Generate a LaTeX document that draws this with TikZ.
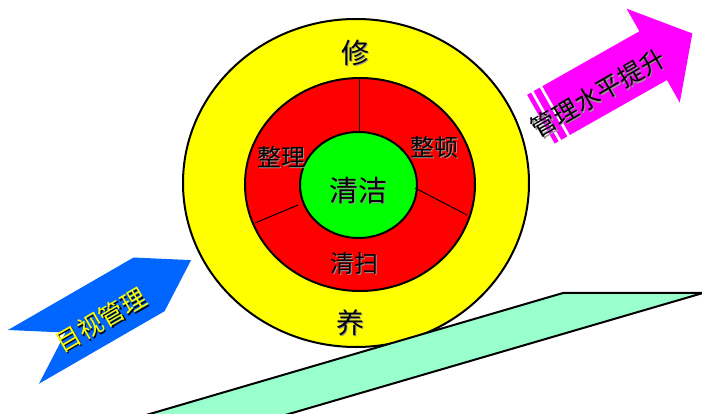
\documentclass[tikz,border=0pt]{standalone}
\usepackage{fontspec}
\newfontfamily\cjk{Noto Sans CJK SC}
\usetikzlibrary{shapes.geometric}
\definecolor{ylw}{RGB}{255,255,0}
\definecolor{rd}{RGB}{255,0,0}
\definecolor{grn}{RGB}{0,255,0}
\definecolor{mint}{RGB}{153,255,204}
\definecolor{blu}{RGB}{0,102,255}
\definecolor{mag}{RGB}{255,0,255}
\definecolor{shd}{RGB}{150,150,150}
\newcommand\shtxt[7]{%
  \node[txt, text=#5, font=\cjk\fontsize{#3}{#3}\selectfont, xshift=1.3pt, yshift=-1.3pt, rotate=#7] (#1s) at (#2) {#6};
  \node[txt, text=#4, font=\cjk\fontsize{#3}{#3}\selectfont, rotate=#7] (#1) at (#2) {#6};}
\begin{document}
\begin{tikzpicture}[x=1pt,y=-1pt,
  ring/.style={ellipse, draw=black, line width=2pt, inner sep=0pt},
  divider/.style={draw=black, line width=1pt},
  txt/.style={inner sep=0pt, anchor=center}]
\useasboundingbox (0,0) rectangle (702,414);

% blue chevron arrow
\begin{scope}[shift={(8,330)}, rotate=30]
  \fill[blu] (0,0) -- (145,0) -- (193.5,31) -- (145,62) -- (0,62) -- (48.5,31) -- cycle;
\end{scope}

% magenta striped arrow
\begin{scope}[shift={(548,83)}, rotate=29.5]
  \fill[mag] (-24,0) rectangle (-19.5,56);
  \fill[mag] (-16.5,0) rectangle (-9.5,56);
  \fill[mag] (-6.5,0) -- (105,0) -- (105,-26) -- (150,28) -- (105,82) -- (105,56) -- (-6.5,56) -- cycle;
\end{scope}

% rings
\node[ring, fill=ylw, minimum width=346pt, minimum height=328pt] (outer) at (356,183) {};
\node[ring, fill=rd, minimum width=230pt, minimum height=213pt] (mid) at (360,184.5) {};
\node[ring, fill=grn, minimum width=117pt, minimum height=106pt] (inner) at (358.5,185) {};

% dividers
\coordinate (d1a) at (359,79);
\coordinate (d1b) at (359,132);
\coordinate (d2a) at (415,188);
\coordinate (d2b) at (467,215);
\coordinate (d3a) at (298,205);
\coordinate (d3b) at (255,223);
\draw[divider] (d1a) -- (d1b);
\draw[divider] (d2a) -- (d2b);
\draw[divider] (d3a) -- (d3b);

% ramp
\begin{scope}
  \clip (0,0) rectangle (702,414);
  \draw[fill=mint, line width=2pt, line join=miter] (563,293) -- (703,293) -- (234,430) -- (95,430) -- cycle;
\end{scope}

% labels
\shtxt{xiu}{355,53}{28}{black}{shd}{修}{0}
\shtxt{yang}{350,323}{28}{black}{shd}{养}{0}
\shtxt{zhengli}{281,157}{24}{black}{shd}{整理}{0}
\shtxt{zhengdun}{434,147}{24}{black}{shd}{整顿}{0}
\shtxt{qingsao}{354,263}{24}{black}{shd}{清扫}{0}
\shtxt{qingjie}{358,190}{29}{black}{shd}{清洁}{0}
\shtxt{mushi}{101,320}{25}{ylw}{black}{目视管理}{30}
\shtxt{guanli}{598,93}{25}{black}{shd}{管理水平提升}{30}
\end{tikzpicture}
\end{document}
